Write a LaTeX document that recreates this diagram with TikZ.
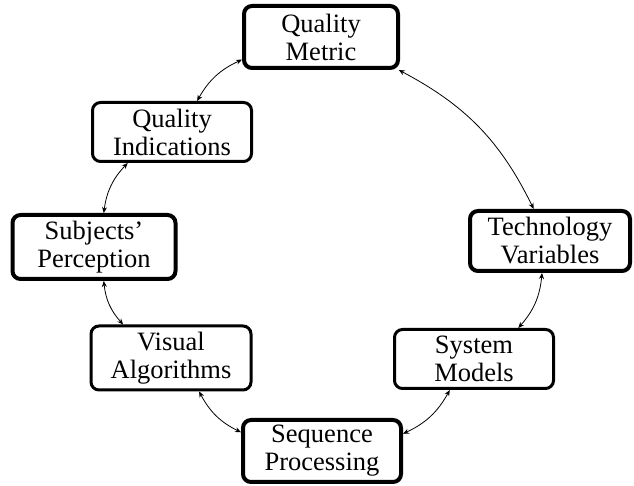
\documentclass[tikz,border=0pt]{standalone}
\usepackage{fontspec}
\setmainfont{Liberation Serif}
\usetikzlibrary{arrows.meta}
\begin{document}
\begin{tikzpicture}[x=1pt,y=1pt,
  box/.style={draw, rounded corners=8pt, align=center, inner sep=0pt,
    font=\fontsize{26.5}{28}\selectfont},
  thickbox/.style={box, line width=4pt},
  thinbox/.style={box, line width=3pt},
  link/.style={<->, >={Stealth[length=6pt,width=5pt]}, line width=0.8pt, bend left=18}]
\useasboundingbox (0,0) rectangle (634,486);
\node[thickbox, minimum width=154pt, minimum height=62pt] (QM) at (321,449) {Quality\\Metric};
\node[thinbox, minimum width=159pt, minimum height=59pt] (QI) at (172,354) {Quality\\Indications};
\node[thickbox, minimum width=163pt, minimum height=64pt] (SubP) at (94,239) {Subjects'\\Perception};
\node[thinbox, minimum width=160pt, minimum height=64pt] (VA) at (171,128) {Visual\\Algorithms};
\node[thickbox, minimum width=158pt, minimum height=62pt] (SeqP) at (322,35) {Sequence\\Processing};
\node[thinbox, minimum width=159pt, minimum height=59pt] (SM) at (474,127) {System\\Models};
\node[thickbox, minimum width=160pt, minimum height=60pt] (TV) at (550,245) {Technology\\Variables};
\draw[link] (QM.337) to (TV.117);
\draw[link] (TV.256) to (SM.35);
\draw[link] (SM.232) to (SeqP.12);
\draw[link] (SeqP.167) to (VA.310);
\draw[link] (VA.145) to (SubP.286);
\draw[link] (SubP.74) to (QI.215);
\draw[link] (QI.51) to (QM.196);
\end{tikzpicture}
\end{document}
